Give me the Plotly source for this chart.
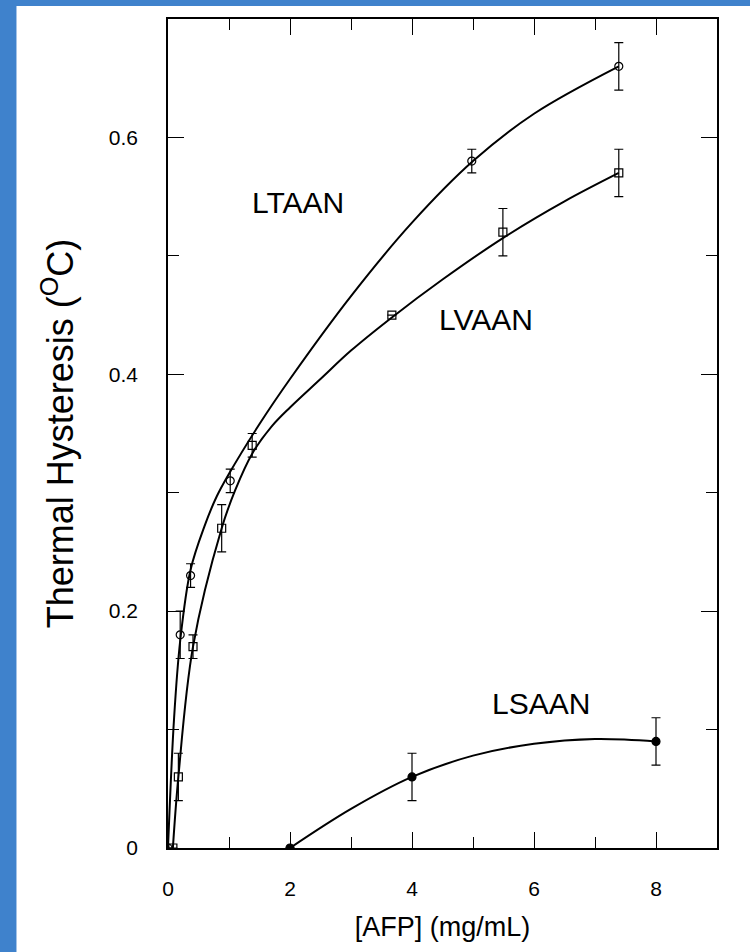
import plotly.graph_objects as go

ltaan_x = [0.0, 0.2, 0.37, 1.02, 4.98, 7.39]
ltaan_y = [0.0, 0.18, 0.23, 0.31, 0.58, 0.66]
ltaan_err = [0.0, 0.02, 0.01, 0.01, 0.01, 0.02]

lvaan_x = [0.08, 0.17, 0.41, 0.88, 1.38, 3.67, 5.49, 7.39]
lvaan_y = [0.0, 0.06, 0.17, 0.27, 0.34, 0.45, 0.52, 0.57]
lvaan_err = [0.0, 0.02, 0.01, 0.02, 0.01, 0.0, 0.02, 0.02]

lsaan_x = [2.0, 4.0, 8.0]
lsaan_y = [0.0, 0.06, 0.09]
lsaan_err = [0.0, 0.02, 0.02]

# ---- drawn fit curves ----
ltaan_fit_x = [0.0, 0.1, 0.2, 0.37, 0.6, 0.8, 1.0, 1.5, 2.0, 3.0, 4.0, 5.0, 6.0, 7.39]
ltaan_fit_y = [0.0, 0.11, 0.175, 0.235, 0.272, 0.297, 0.316, 0.358, 0.396, 0.466, 0.528, 0.58, 0.62, 0.66]

lvaan_fit_x = [0.08, 0.17, 0.41, 0.88, 1.1, 1.38, 1.7, 2.0, 2.5, 3.0, 3.67, 4.5, 5.49, 6.5, 7.39]
lvaan_fit_y = [0.0, 0.06, 0.17, 0.27, 0.302, 0.333, 0.356, 0.372, 0.396, 0.42, 0.448, 0.48, 0.515, 0.546, 0.57]

lsaan_fit_x = [2.0, 3.0, 4.0, 5.0, 6.0, 7.0, 8.0]
lsaan_fit_y = [0.0, 0.033, 0.06, 0.078, 0.088, 0.092, 0.09]

x_ticks = [0, 2, 4, 6, 8]
y_ticks = [0, 0.2, 0.4, 0.6]
y_ticktext = ["0", "0.2", "0.4", "0.6"]

labels = ["LTAAN", "LVAAN", "LSAAN"]
label_x = [2.13, 5.21, 6.11]
label_y = [0.545, 0.446, 0.122]

FONT = "Liberation Sans, Arial, Helvetica, sans-serif"

fig = go.Figure()

for fx, fy in [(ltaan_fit_x, ltaan_fit_y), (lvaan_fit_x, lvaan_fit_y), (lsaan_fit_x, lsaan_fit_y)]:
    fig.add_trace(go.Scatter(
        x=fx, y=fy, mode="lines",
        line=dict(color="black", width=2, shape="spline", smoothing=1.0),
        showlegend=False, hoverinfo="skip",
    ))

def add_points(x, y, err, symbol, name):
    fig.add_trace(go.Scatter(
        x=x, y=y, name=name, mode="markers",
        marker=dict(symbol=symbol, size=8, color="black",
                    line=dict(color="black", width=1.2)),
        error_y=dict(type="data", array=err, visible=True,
                     color="black", thickness=1.2, width=4.5),
        showlegend=False,
    ))

add_points(ltaan_x, ltaan_y, ltaan_err, "circle-open", "LTAAN")
add_points(lvaan_x, lvaan_y, lvaan_err, "square-open", "LVAAN")
add_points(lsaan_x, lsaan_y, lsaan_err, "circle", "LSAAN")

for t, xx, yy in zip(labels, label_x, label_y):
    fig.add_annotation(x=xx, y=yy, text=t, showarrow=False,
                       font=dict(family=FONT, size=30, color="black"))

# white slide panel over the blue background
fig.add_shape(type="rect", xref="paper", yref="paper",
              x0=-0.276, x1=1.1, y0=-0.2, y1=1.0157,
              fillcolor="white", line=dict(width=0), layer="below")

axis_common = dict(
    showline=True, linecolor="black", linewidth=1.5, mirror="ticks",
    ticks="inside", tickcolor="black", tickwidth=1.3, ticklen=16,
    showgrid=False, zeroline=False,
    tickfont=dict(family=FONT, size=21, color="black"),
    minor=dict(ticks="inside", ticklen=11, tickwidth=1.3, tickcolor="black", showgrid=False),
)

fig.update_xaxes(
    **axis_common, range=[0, 9], tickvals=x_ticks,
    ticklabelstandoff=21,
    title=dict(text="[AFP] (mg/mL)", font=dict(family=FONT, size=27, color="black"), standoff=18),
)
fig.update_xaxes(minor=dict(dtick=1, tick0=0))
fig.update_yaxes(
    **axis_common, range=[0, 0.7], tickvals=y_ticks, ticktext=y_ticktext,
    ticklabelstandoff=24,
    title=dict(text="Thermal Hysteresis (<sup>O</sup>C)", font=dict(family=FONT, size=36, color="black"), standoff=24),
)
fig.update_yaxes(minor=dict(dtick=0.1, tick0=0))

fig.update_layout(
    width=750, height=952,
    margin=dict(l=168, r=33, t=19, b=104),
    paper_bgcolor="#3f82cc", plot_bgcolor="white",
)

fig.write_html("out.html", config={"displayModeBar": False},
               post_script="document.body.style.margin='0';document.body.style.padding='0';")
